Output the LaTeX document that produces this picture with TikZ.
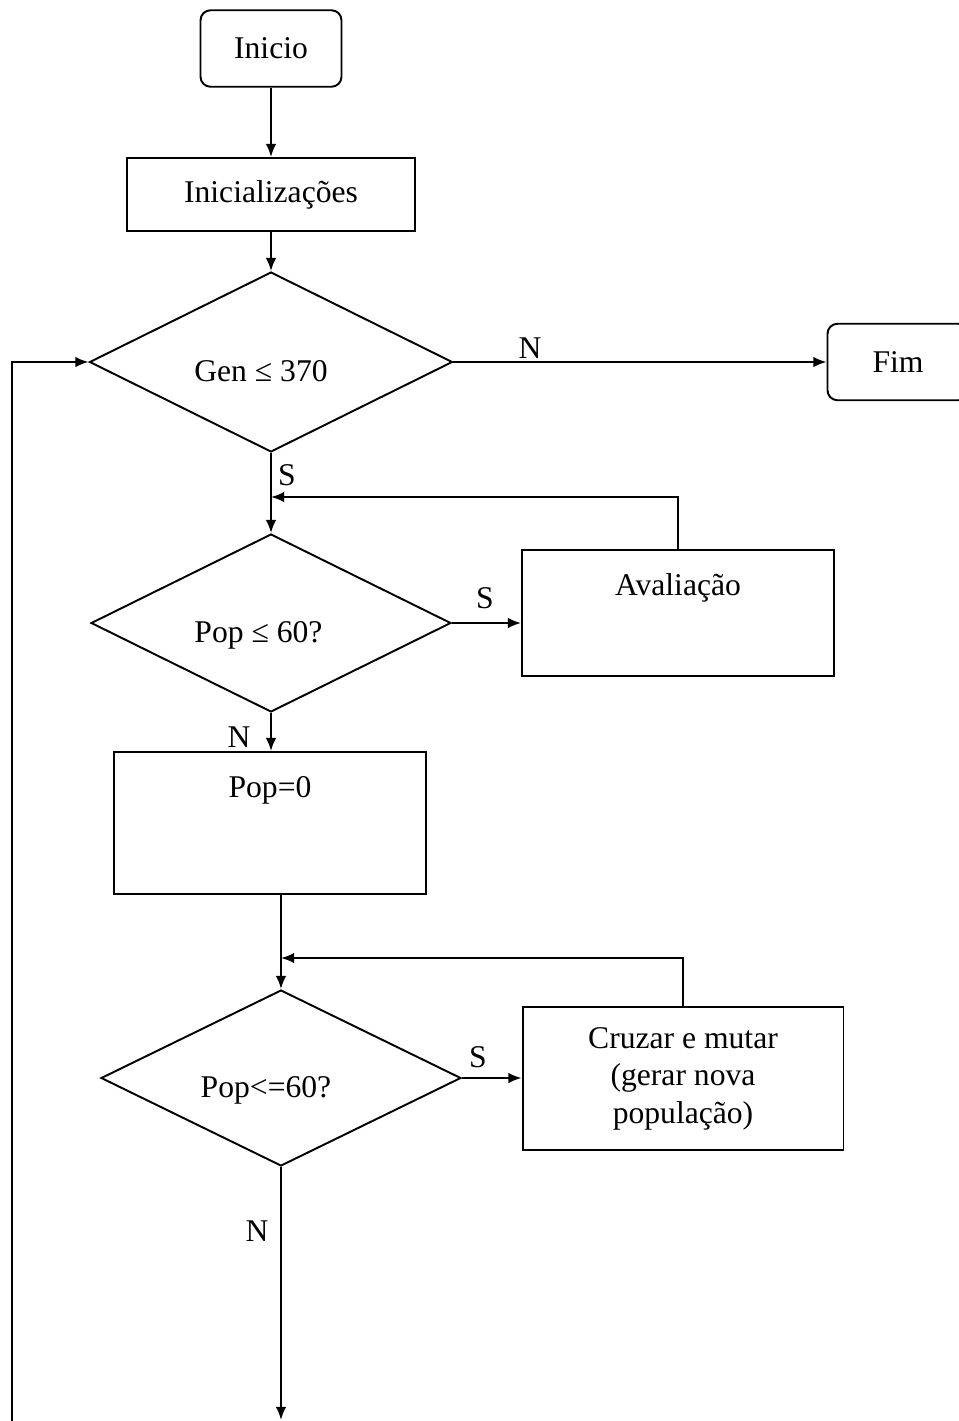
\documentclass[tikz,border=0pt]{standalone}
\usepackage{fontspec}
\setmainfont{Liberation Serif}
\usetikzlibrary{shapes.geometric,arrows.meta}
\tikzset{
  caixa/.style={draw,line width=1.1pt,inner sep=0pt},
  term/.style={caixa,rounded corners=0.2cm,minimum width=2.82cm,minimum height=1.53cm},
  losango/.style={draw,line width=1.1pt,diamond,inner sep=0pt},
  rot/.style={inner sep=0pt,anchor=base},
}
\def\seta{\draw[line width=1.1pt,-{Latex[length=7.5pt,width=6pt]}]}

\begin{document}
\begin{tikzpicture}[x=0.02cm,y=-0.02cm,font=\fontsize{18}{21}\selectfont]
\useasboundingbox (0,0) rectangle (958,1421);
% caixas
\node[term] (inicio) at (271,48.5) {Inicio};
\node[caixa,minimum width=5.76cm,minimum height=1.46cm] (init) at (271,194.5) {Inicializações};
\node[term] (fim) at (898,362) {Fim};
\node[losango,minimum width=7.26cm,minimum height=3.6cm] (gen) at (271,362) {};
\node[losango,minimum width=7.2cm,minimum height=3.56cm] (pop1) at (271,623) {};
\node[caixa,minimum width=6.24cm,text height=0.9cm,text depth=1.62cm] (aval) at (678,613) {Avaliação};
\node[caixa,minimum width=6.24cm,text height=0.9cm,text depth=1.94cm] (pop0) at (270,823) {Pop=0};
\node[losango,minimum width=7.2cm,minimum height=3.52cm] (pop2) at (281,1078) {};
\node[caixa,minimum width=6.42cm,minimum height=2.86cm,align=center,
      font=\fontsize{18}{21.3}\selectfont] (cruz) at (683,1078.5)
      {Cruzar e mutar\\(gerar nova\\população)};
% textos dos losangos
\node[rot] (gent) at (261,381) {Gen ≤ 370};
\node[rot] (pop1t) at (258.5,642) {Pop ≤ 60?};
\node[rot] (pop2t) at (266,1097) {Pop<=60?};
% rotulos
\node[rot] (n1) at (530,358) {N};
\node[rot] (s1) at (287,485) {S};
\node[rot] (s2) at (485,608) {S};
\node[rot] (n2) at (239,747) {N};
\node[rot] (s3) at (478,1067) {S};
\node[rot] (n3) at (257,1241) {N};
% pontos
\coordinate (j1) at (271,497);
\coordinate (j2) at (281,958);
\coordinate (saida) at (281,1420);
\coordinate (volta) at (12,1421);
% ligacoes
\seta (inicio) -- (init);
\seta (init) -- (gen.north);
\seta (gen.east) -- (fim.west);
\seta (gen.south) -- (pop1.north);
\seta (pop1.east) -- (pop1.east -| aval.west);
\seta (aval.north) |- (j1);
\seta (pop1.south) -- (pop1.south |- pop0.north);
\seta (pop0.south -| pop2.north) -- (pop2.north);
\seta (pop2.east) -- (pop2.east -| cruz.west);
\seta (cruz.north) |- (j2);
\seta (pop2.south) -- (saida);
\seta (volta) |- (gen.west);
\end{tikzpicture}
\end{document}
